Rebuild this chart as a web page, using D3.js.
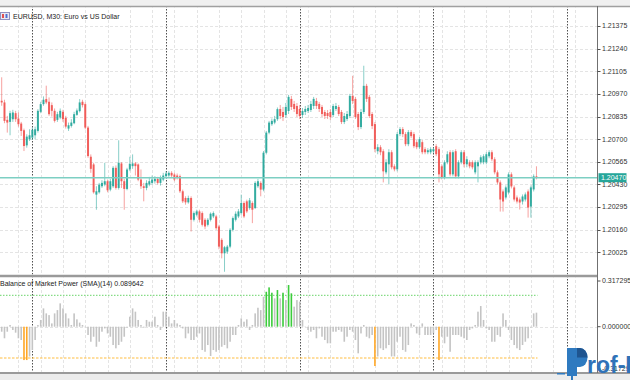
<!DOCTYPE html>
<html><head><meta charset="utf-8">
<script src="https://cdn.jsdelivr.net/npm/d3@7"></script>
<style>body{margin:0;background:#fff}svg{display:block}text{font-family:"Liberation Sans",Arial,sans-serif}</style>
</head><body><svg id="c" width="630" height="380"></svg>
<script>
const symbolTitle="EURUSD, M30:  Euro vs US Dollar";
const indicatorTitle="Balance of Market Power (SMA)(14) 0.089642";
const open=[1.20929,1.20919,1.20815,1.20803,1.20819,1.20855,1.20823,1.20793,1.20753,1.20663,1.20699,1.20709,1.20723,1.20749,1.20863,1.20909,1.20939,1.20923,1.20903,1.20869,1.20815,1.20829,1.20863,1.20827,1.20763,1.20779,1.20795,1.20845,1.20867,1.20923,1.20909,1.20769,1.20595,1.20549,1.20369,1.20383,1.20419,1.20429,1.20449,1.20399,1.20419,1.20529,1.20409,1.20555,1.20449,1.20403,1.20519,1.20539,1.20555,1.20549,1.20459,1.20419,1.20409,1.20429,1.20439,1.20449,1.20463,1.20439,1.20459,1.20479,1.20483,1.20499,1.20489,1.20483,1.20479,1.20389,1.20349,1.20323,1.20349,1.20219,1.20249,1.20269,1.20259,1.20219,1.20189,1.20219,1.20239,1.20239,1.20179,1.20099,1.20019,1.20029,1.20059,1.20159,1.20219,1.20239,1.20259,1.20319,1.20329,1.20289,1.20319,1.20289,1.20419,1.20439,1.20399,1.20619,1.20739,1.20789,1.20799,1.20819,
1.20880,1.20862,1.20844,1.20868,1.20940,1.20910,1.20898,1.20880,1.20844,1.20862,1.20868,1.20874,1.20898,1.20928,1.20910,1.20892,1.20862,1.20856,1.20862,1.20844,1.20880,1.20892,1.20862,1.20802,1.20820,1.20838,1.20958,1.20940,1.20850,1.20772,1.20862,1.21018,1.20952,1.20850,1.20790,1.20628,1.20652,1.20628,1.20502,1.20550,1.20622,1.20538,1.20520,1.20730,1.20760,1.20730,1.20670,1.20742,1.20730,1.20682,1.20652,1.20682,1.20640,1.20622,1.20622,1.20628,1.20658,1.20640,1.20538,1.20472,1.20562,1.20622,1.20490,1.20628,1.20478,1.20562,1.20622,1.20550,1.20562,1.20562,1.20502,1.20538,1.20562,1.20562,1.20562,1.20598,1.20622,1.20580,1.20502,1.20442,1.20388,1.20352,1.20382,1.20490,1.20412,1.20352,1.20340,1.20328,1.20340,1.20388,1.20298,1.20400,1.20478];
const high=[1.21069,1.20935,1.20839,1.20869,1.20875,1.20869,1.20859,1.20803,1.20763,1.20729,1.20759,1.20769,1.20775,1.20879,1.20923,1.20955,1.21019,1.20949,1.20919,1.20883,1.20863,1.20883,1.20875,1.20839,1.20799,1.20819,1.20863,1.20883,1.20939,1.20935,1.20919,1.20779,1.20609,1.20559,1.20419,1.20439,1.20455,1.20559,1.20459,1.20463,1.20539,1.20543,1.20693,1.20563,1.20463,1.20529,1.20595,1.20609,1.20563,1.20555,1.20519,1.20439,1.20455,1.20475,1.20483,1.20479,1.20475,1.20483,1.20499,1.20509,1.20509,1.20509,1.20499,1.20495,1.20489,1.20399,1.20359,1.20363,1.20359,1.20269,1.20279,1.20279,1.20269,1.20229,1.20229,1.20263,1.20269,1.20249,1.20189,1.20109,1.20063,1.20069,1.20169,1.20239,1.20269,1.20283,1.20369,1.20329,1.20339,1.20349,1.20329,1.20449,1.20463,1.20449,1.20629,1.20749,1.20809,1.20823,1.20839,1.20889,
1.20904,1.20892,1.20916,1.20964,1.20958,1.20928,1.20916,1.20904,1.20886,1.20898,1.20904,1.20928,1.20952,1.20946,1.20922,1.20904,1.20874,1.20874,1.20880,1.20910,1.20916,1.20904,1.20874,1.20856,1.20868,1.20970,1.21078,1.20952,1.20862,1.20880,1.21138,1.21030,1.20964,1.20862,1.20802,1.20670,1.20664,1.20640,1.20580,1.20640,1.20634,1.20550,1.20742,1.20772,1.20772,1.20742,1.20754,1.20754,1.20742,1.20694,1.20712,1.20694,1.20652,1.20646,1.20652,1.20652,1.20670,1.20652,1.20550,1.20574,1.20628,1.20634,1.20634,1.20640,1.20574,1.20634,1.20634,1.20598,1.20574,1.20574,1.20574,1.20574,1.20604,1.20610,1.20622,1.20634,1.20634,1.20592,1.20514,1.20454,1.20400,1.20424,1.20502,1.20502,1.20424,1.20364,1.20352,1.20370,1.20382,1.20400,1.20424,1.20490,1.20538];
const low=[1.20899,1.20795,1.20739,1.20723,1.20803,1.20803,1.20775,1.20719,1.20629,1.20649,1.20689,1.20695,1.20699,1.20739,1.20855,1.20899,1.20909,1.20839,1.20835,1.20799,1.20803,1.20819,1.20803,1.20763,1.20749,1.20769,1.20789,1.20839,1.20859,1.20889,1.20759,1.20589,1.20499,1.20375,1.20279,1.20375,1.20409,1.20419,1.20383,1.20389,1.20409,1.20399,1.20399,1.20409,1.20279,1.20395,1.20509,1.20523,1.20483,1.20449,1.20403,1.20329,1.20395,1.20419,1.20429,1.20435,1.20429,1.20423,1.20449,1.20469,1.20475,1.20469,1.20449,1.20459,1.20379,1.20319,1.20309,1.20315,1.20149,1.20209,1.20239,1.20203,1.20179,1.20163,1.20179,1.20209,1.20229,1.20159,1.20043,1.19989,1.19909,1.20015,1.20049,1.20149,1.20209,1.20229,1.20249,1.20229,1.20259,1.20279,1.20199,1.20283,1.20409,1.20359,1.20389,1.20609,1.20729,1.20779,1.20789,1.20809,
1.20820,1.20808,1.20826,1.20850,1.20874,1.20862,1.20832,1.20820,1.20826,1.20844,1.20856,1.20862,1.20880,1.20880,1.20862,1.20832,1.20820,1.20820,1.20814,1.20832,1.20868,1.20838,1.20790,1.20790,1.20808,1.20826,1.20910,1.20820,1.20754,1.20760,1.20850,1.20922,1.20826,1.20760,1.20622,1.20610,1.20604,1.20442,1.20490,1.20430,1.20520,1.20508,1.20508,1.20718,1.20712,1.20658,1.20658,1.20706,1.20646,1.20640,1.20640,1.20610,1.20610,1.20610,1.20610,1.20616,1.20598,1.20442,1.20460,1.20460,1.20550,1.20478,1.20478,1.20466,1.20466,1.20550,1.20532,1.20532,1.20526,1.20520,1.20490,1.20442,1.20550,1.20550,1.20550,1.20586,1.20568,1.20490,1.20430,1.20268,1.20268,1.20340,1.20370,1.20406,1.20328,1.20316,1.20280,1.20310,1.20328,1.20232,1.20232,1.20388,1.20460];
const close=[1.20919,1.20809,1.20799,1.20855,1.20859,1.20819,1.20789,1.20749,1.20659,1.20715,1.20723,1.20755,1.20759,1.20869,1.20909,1.20935,1.20919,1.20849,1.20869,1.20809,1.20849,1.20869,1.20819,1.20775,1.20783,1.20799,1.20849,1.20871,1.20919,1.20903,1.20769,1.20599,1.20523,1.20383,1.20389,1.20429,1.20439,1.20449,1.20395,1.20449,1.20529,1.20409,1.20559,1.20449,1.20403,1.20519,1.20553,1.20555,1.20539,1.20459,1.20419,1.20409,1.20439,1.20449,1.20459,1.20463,1.20439,1.20469,1.20483,1.20495,1.20499,1.20483,1.20459,1.20469,1.20389,1.20329,1.20323,1.20349,1.20219,1.20259,1.20269,1.20219,1.20189,1.20179,1.20219,1.20255,1.20259,1.20169,1.20059,1.20019,1.20055,1.20059,1.20159,1.20229,1.20255,1.20269,1.20319,1.20239,1.20269,1.20335,1.20279,1.20439,1.20449,1.20399,1.20619,1.20739,1.20799,1.20809,1.20819,1.20879,
1.20838,1.20832,1.20892,1.20952,1.20892,1.20880,1.20850,1.20838,1.20868,1.20880,1.20886,1.20910,1.20940,1.20898,1.20880,1.20850,1.20838,1.20838,1.20832,1.20898,1.20898,1.20850,1.20802,1.20838,1.20850,1.20958,1.20928,1.20832,1.20772,1.20862,1.21018,1.20940,1.20838,1.20778,1.20640,1.20652,1.20622,1.20508,1.20562,1.20622,1.20532,1.20520,1.20730,1.20760,1.20730,1.20670,1.20742,1.20718,1.20658,1.20652,1.20700,1.20622,1.20622,1.20634,1.20640,1.20640,1.20610,1.20490,1.20472,1.20562,1.20610,1.20490,1.20622,1.20478,1.20562,1.20622,1.20550,1.20580,1.20538,1.20532,1.20562,1.20562,1.20592,1.20598,1.20610,1.20622,1.20580,1.20502,1.20442,1.20340,1.20328,1.20412,1.20490,1.20418,1.20340,1.20328,1.20322,1.20358,1.20370,1.20292,1.20412,1.20478,1.20470];
const bmp=[-0.032,-0.074,-0.032,0.011,-0.021,-0.038,-0.074,-0.085,-0.213,-0.213,-0.19,-0.149,-0.085,0.011,0.043,0.117,0.085,0.074,0.021,0.085,0.106,0.149,0.117,0.085,0.053,0.011,0.085,0.047,0.026,0.011,-0.004,-0.053,-0.096,-0.064,-0.128,-0.096,-0.032,-0.011,-0.043,-0.064,-0.117,-0.138,-0.117,-0.096,-0.064,-0.006,0.064,0.117,0.096,0.043,0.011,-0.006,0.043,0.032,0.032,0.064,0.011,-0.021,0.096,0.096,0.064,0.021,0.043,0.021,0.011,-0.011,-0.074,-0.043,-0.085,-0.085,-0.064,-0.043,-0.149,-0.16,-0.117,-0.187,-0.149,-0.16,-0.149,-0.128,-0.117,-0.138,-0.096,-0.053,-0.053,0.011,0.053,0.032,0.047,-0.021,0.011,0.085,0.121,0.106,0.191,0.223,0.251,0.217,0.181,0.234,0.181,0.217,0.17,0.266,0.213,0.128,0.17,0.16,0.043,0.002,-0.021,-0.032,-0.021,-0.074,-0.011,-0.064,-0.085,-0.106,-0.106,-0.032,-0.032,-0.021,-0.032,-0.096,-0.064,-0.021,-0.032,-0.085,-0.17,-0.043,0.011,-0.064,-0.074,-0.053,-0.251,-0.19,-0.138,-0.149,-0.138,-0.117,-0.19,-0.19,-0.096,-0.064,-0.149,-0.16,-0.117,0.021,0.011,-0.043,-0.053,0.021,-0.053,-0.053,-0.053,-0.043,-0.021,-0.213,-0.064,-0.106,-0.064,-0.16,-0.053,-0.053,-0.053,-0.064,-0.074,-0.085,-0.021,-0.011,0.011,0.096,0.132,0.043,-0.011,-0.021,-0.096,-0.096,-0.053,-0.064,0.085,0.043,-0.021,-0.085,-0.117,-0.138,-0.149,-0.117,-0.096,-0.074,-0.006,0.085,0.089642];
const priceTicks=[1.21375,1.21240,1.21105,1.20970,1.20835,1.20700,1.20565,1.20430,1.20295,1.20160,1.20025];
const bmpTicks=[0.317295,0.000000,-0.317295];
const bmpLevels=[0.2,-0.2];
const currentPrice=1.20470;
const daySeparators=[11,59,107,155,203];

const W=630,H=380,axisX=597.5;
const svg=d3.select('#c');
const x=d3.scaleLinear().domain([0,203]).range([1.7,567.1]);
const y=d3.scaleLinear().domain([1.20025,1.21375]).range([252.3,26]);
const yb=d3.scaleLinear().domain([-0.317295,0.317295]).range([376.4,277]);
const n=close.length;
const bull="#26a69a",bear="#ef5350";

const defs=svg.append('defs');
defs.append('clipPath').attr('id','cm').append('rect').attr('x',0).attr('y',7.5).attr('width',axisX).attr('height',267);
defs.append('clipPath').attr('id','ci').append('rect').attr('x',0).attr('y',277.5).attr('width',axisX).attr('height',94.5);

// frame
svg.append('rect').attr('x',0).attr('y',0).attr('width',W).attr('height',6).attr('fill','#f0f0f0');
svg.append('rect').attr('x',0).attr('y',373).attr('width',W).attr('height',7).attr('fill','#ececec');

const gm=svg.append('g').attr('clip-path','url(#cm)');
const gi=svg.append('g').attr('clip-path','url(#ci)');

// grid
const gridIdx=d3.range(6,215,8);
[gm,gi].forEach(g=>{
  g.selectAll(null).data(gridIdx).join('line')
   .attr('x1',d=>Math.round(x(d))+0.5).attr('x2',d=>Math.round(x(d))+0.5)
   .attr('y1',0).attr('y2',H).attr('stroke','#e4e4e4').attr('stroke-dasharray','3,2');
});
gm.selectAll(null).data(priceTicks).join('line')
  .attr('x1',0).attr('x2',axisX).attr('y1',d=>Math.round(y(d))+0.5).attr('y2',d=>Math.round(y(d))+0.5)
  .attr('stroke','#e4e4e4').attr('stroke-dasharray','3,2');
gi.append('line').attr('x1',0).attr('x2',axisX).attr('y1',Math.round(yb(0))+0.5).attr('y2',Math.round(yb(0))+0.5)
  .attr('stroke','#e4e4e4').attr('stroke-dasharray','3,2');
[gm,gi].forEach(g=>{
  g.selectAll(null).data(daySeparators).join('line')
   .attr('x1',d=>Math.round(x(d))+0.5).attr('x2',d=>Math.round(x(d))+0.5)
   .attr('y1',0).attr('y2',H).attr('stroke','#505050').attr('stroke-dasharray','1.5,1.5');
});

// candles
const idx=d3.range(n);
gm.selectAll('.w').data(idx).join('line')
  .attr('x1',i=>x(i)).attr('x2',i=>x(i)).attr('y1',i=>y(high[i])).attr('y2',i=>y(low[i]))
  .attr('stroke',i=>close[i]>=open[i]?bull:bear).attr('stroke-opacity',0.55).attr('stroke-width',1);
gm.selectAll('.b').data(idx).join('rect')
  .attr('x',i=>x(i)-1).attr('width',2)
  .attr('y',i=>y(Math.max(open[i],close[i])))
  .attr('height',i=>Math.max(1,Math.abs(y(open[i])-y(close[i]))))
  .attr('fill',i=>close[i]>=open[i]?bull:bear).attr('fill-opacity',0.9);

// current price line
gm.append('line').attr('x1',0).attr('x2',axisX).attr('y1',y(currentPrice)).attr('y2',y(currentPrice))
  .attr('stroke','#7dcfc3').attr('stroke-width',1.4);

// indicator levels
const lastX=x(n-1)+1;
gi.append('line').attr('x1',0).attr('x2',lastX).attr('y1',yb(bmpLevels[0])).attr('y2',yb(bmpLevels[0]))
  .attr('stroke','#86dc86').attr('stroke-width',1.1).attr('stroke-dasharray','1.5,1.5');
gi.append('line').attr('x1',0).attr('x2',lastX).attr('y1',yb(bmpLevels[1])).attr('y2',yb(bmpLevels[1]))
  .attr('stroke','#ffbd40').attr('stroke-width',1.1).attr('stroke-dasharray','2.5,1.5');
// indicator bars
gi.selectAll('.h').data(idx).join('rect')
  .attr('x',i=>x(i)-0.8).attr('width',1.6)
  .attr('y',i=>Math.min(yb(0),yb(bmp[i])))
  .attr('height',i=>Math.abs(yb(bmp[i])-yb(0)))
  .attr('fill',i=>bmp[i]>bmpLevels[0]?'#3ccc3c':(bmp[i]<bmpLevels[1]?'#ffa726':'#c4c4c4'));

// panel borders
svg.append('line').attr('x1',0).attr('x2',W).attr('y1',6.5).attr('y2',6.5).attr('stroke','#a0a0a0').attr('stroke-width',1.5);
svg.append('line').attr('x1',0).attr('x2',axisX).attr('y1',276).attr('y2',276).attr('stroke','#9a9a9a').attr('stroke-width',2.5);
svg.append('line').attr('x1',0).attr('x2',W).attr('y1',373).attr('y2',373).attr('stroke','#9a9a9a').attr('stroke-width',2);
svg.append('line').attr('x1',axisX).attr('x2',axisX).attr('y1',6).attr('y2',373).attr('stroke','#707070').attr('stroke-width',1);

// price axis
const ax=svg.append('g');
ax.selectAll(null).data(priceTicks).join('line')
  .attr('x1',axisX).attr('x2',axisX+3).attr('y1',d=>Math.round(y(d))+0.5).attr('y2',d=>Math.round(y(d))+0.5).attr('stroke','#505050');
ax.selectAll(null).data(priceTicks).join('text')
  .attr('x',602).attr('y',d=>y(d)).attr('dy','0.35em').attr('font-size',7).attr('fill','#333')
  .text(d=>d.toFixed(5));
// current price label
ax.append('rect').attr('x',598.5).attr('y',y(currentPrice)-4.5).attr('width',28).attr('height',9).attr('fill','#26a69a');
ax.append('text').attr('x',601).attr('y',y(currentPrice)).attr('dy','0.35em').attr('font-size',7).attr('fill','#fff').text(currentPrice.toFixed(5));

// indicator axis
const bpos=[281,326.7,369];
ax.selectAll(null).data(bmpTicks).join('line')
  .attr('x1',axisX).attr('x2',axisX+3).attr('y1',(d,k)=>bpos[k]).attr('y2',(d,k)=>bpos[k]).attr('stroke','#505050');
ax.selectAll(null).data(bmpTicks).join('text')
  .attr('x',602).attr('y',(d,k)=>bpos[k]).attr('dy','0.35em').attr('font-size',7).attr('fill','#333')
  .text(d=>d.toFixed(6));

// titles
const ic=svg.append('g');
ic.append('rect').attr('x',0.5).attr('y',12.5).attr('width',9).attr('height',7).attr('fill','#e8e8f4').attr('stroke','#9090c0');
ic.append('rect').attr('x',2).attr('y',14).attr('width',2).attr('height',4).attr('fill','#e05050');
ic.append('rect').attr('x',5.5).attr('y',14).attr('width',2).attr('height',4).attr('fill','#5070d0');
svg.append('text').attr('x',13).attr('y',17).attr('dy','0.35em').attr('font-size',7).attr('fill','#222').text(symbolTitle);
svg.append('text').attr('x',0).attr('y',284).attr('dy','0.35em').attr('font-size',7).attr('fill','#222').text(indicatorTitle);

// watermark (logo "P" + text)
const wm=svg.append('g');
wm.append('rect').attr('x',557).attr('y',373).attr('width',8).attr('height',1.5).attr('fill','#2f7ac0');
wm.append('rect').attr('x',567).attr('y',348).attr('width',10).attr('height',28).attr('fill','#2f7ac0');
wm.append('rect').attr('x',571).attr('y',376).attr('width',2).attr('height',4).attr('fill','#2f7ac0');
wm.append('path').attr('d','M577,348 h3 a7.5,9.5 0 0 1 0,19 h-3 z').attr('fill','#2f7ac0');
wm.append('path').attr('d','M577,348 h3 a7.5,9.5 0 0 1 7.5,9.5 h-10.5 z').attr('fill','#1f5590');
wm.append('text').attr('x',587).attr('y',373).attr('font-size',23).attr('font-weight','bold').attr('fill','#2f72b8').attr('font-family','DejaVu Sans').text('rof-F');
</script></body></html>
